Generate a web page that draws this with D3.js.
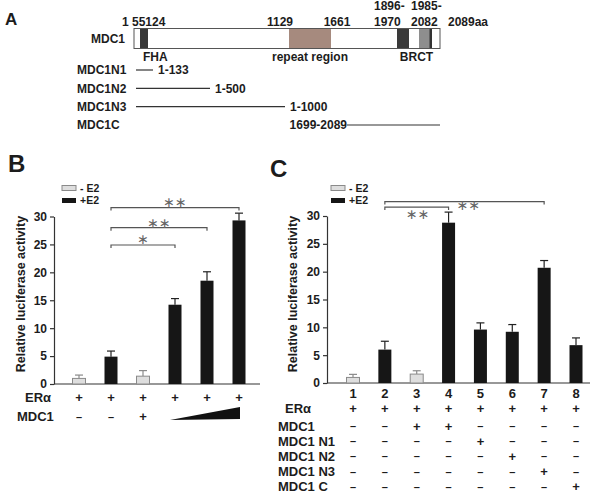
<!DOCTYPE html>
<html>
<head>
<meta charset="utf-8">
<script src="https://cdn.jsdelivr.net/npm/d3@7"></script>
<style>
  body { margin: 0; background: #fff; }
  svg text { font-family: 'Liberation Sans', Arial, sans-serif; font-weight: bold; fill: #1c1c1c; }
  svg text.star { font-family: 'DejaVu Sans', sans-serif; font-weight: normal; fill: #666; }
</style>
</head>
<body>
<svg id="fig" width="592" height="494"></svg>
<script>

// ---- panel A : MDC1 domains and deletion constructs
let domainFrom = [55, 1129, 1896, 1985];
let domainTo = [124, 1661, 1970, 2082];
let domainKind = ['fha', 'repeat', 'brct1', 'brct2'];
let fragNames = ['MDC1N1', 'MDC1N2', 'MDC1N3', 'MDC1C'];
let fragFrom = [1, 1, 1, 1699];
let fragTo = [133, 500, 1000, 2089];

// ---- panel B
let bE2 = ['-', '+', '-', '+', '+', '+'];
let bValues = [1.0, 4.9, 1.4, 14.2, 18.5, 29.3];
let bErrors = [0.6, 1.0, 1.0, 1.1, 1.6, 1.3];
let bEra = ['+', '+', '+', '+', '+', '+'];
let bMdc1 = ['–', '–', '+', '', '', ''];
let bSigFrom = [1, 1, 1];
let bSigTo = [5, 4, 3];
let bSigLevel = [31.6, 28.0, 24.9];
let bSigText = ['∗∗', '∗∗', '∗'];

// ---- panel C
let cLanes = ['1', '2', '3', '4', '5', '6', '7', '8'];
let cE2 = ['-', '+', '-', '+', '+', '+', '+', '+'];
let cValues = [1.0, 6.0, 1.6, 28.8, 9.6, 9.2, 20.7, 6.8];
let cErrors = [0.55, 1.5, 0.6, 1.9, 1.2, 1.3, 1.3, 1.3];
let cRowNames = ['ERα', 'MDC1', 'MDC1 N1', 'MDC1 N2', 'MDC1 N3', 'MDC1 C'];
let cRows = [
    ['+', '+', '+', '+', '+', '+', '+', '+'],
    ['–', '–', '+', '+', '–', '–', '–', '–'],
    ['–', '–', '–', '–', '+', '–', '–', '–'],
    ['–', '–', '–', '–', '–', '+', '–', '–'],
    ['–', '–', '–', '–', '–', '–', '+', '–'],
    ['–', '–', '–', '–', '–', '–', '–', '+']
];
let cSigFrom = [1, 1];
let cSigTo = [6, 3];
let cSigLevel = [32.6, 31.6];
let cSigText = ['∗∗', '∗∗'];

let yTicks = [0, 5, 10, 15, 20, 25, 30];

let svg = d3.select('#fig');

// ------------------------------------------------------------ panel A
// schematic is not drawn to scale, so use a piecewise linear scale
let aX = d3.scaleLinear()
    .domain([1, 55, 124, 133, 500, 1000, 1129, 1661, 1699, 1896, 1970, 1985, 2082, 2089])
    .range([134, 140, 148, 153, 210, 285, 289, 331, 347, 397, 409, 419, 432, 440]);

let domainFill = { fha: '#383838', repeat: '#a68a7e', brct1: '#3a3a3a', brct2: '#8e8e8e' };

let gA = svg.append('g');
gA.append('text').attr('x', 5).attr('y', 25).style('font-size', '17px').text('A');

gA.append('rect')
    .attr('x', aX(1)).attr('y', 28.5)
    .attr('width', aX(2089) - aX(1)).attr('height', 20)
    .attr('fill', '#fff').attr('stroke', '#555');

gA.selectAll('rect.dom')
    .data(domainKind)
    .join('rect')
    .attr('class', 'dom')
    .attr('x', (d, i) => aX(domainFrom[i]))
    .attr('y', 29)
    .attr('width', (d, i) => aX(domainTo[i]) - aX(domainFrom[i]))
    .attr('height', 19)
    .attr('fill', d => domainFill[d]);

// dark edge at the end of the second BRCT
gA.append('rect')
    .attr('x', aX(2082) - 2.5).attr('y', 29)
    .attr('width', 2.5).attr('height', 19)
    .attr('fill', '#333');

let topLabels = [
    { t: '1 55124', x: aX(1) - 12, y: 26, a: 'start' },
    { t: '1129', x: aX(1129) + 4, y: 26, a: 'end' },
    { t: '1661', x: aX(1661) + 6, y: 26, a: 'middle' },
    { t: '1896-', x: aX(1896) - 23, y: 10, a: 'start' },
    { t: '1970', x: aX(1896) - 23, y: 26, a: 'start' },
    { t: '1985-', x: aX(1985) - 8, y: 10, a: 'start' },
    { t: '2082', x: aX(1985) - 8, y: 26, a: 'start' },
    { t: '2089aa', x: aX(2089) + 8, y: 26, a: 'start' },
    { t: 'FHA', x: aX(55) + 3, y: 61, a: 'start' },
    { t: 'repeat region', x: (aX(1129) + aX(1661)) / 2, y: 61, a: 'middle' },
    { t: 'BRCT', x: (aX(1896) + aX(2082)) / 2 + 2, y: 61, a: 'middle' },
    { t: 'MDC1', x: 91, y: 43, a: 'start' }
];
gA.selectAll('text.lab')
    .data(topLabels)
    .join('text')
    .attr('class', 'lab')
    .attr('x', d => d.x).attr('y', d => d.y)
    .attr('text-anchor', d => d.a)
    .style('font-size', '12px')
    .text(d => d.t);

let fragY = d3.scalePoint().domain(fragNames).range([70, 125]);
let frag = gA.selectAll('g.frag')
    .data(fragNames)
    .join('g')
    .attr('class', 'frag');
frag.append('text')
    .attr('x', 77).attr('y', d => fragY(d) + 4.3)
    .style('font-size', '12px')
    .text(d => d);
frag.append('line')
    .attr('x1', (d, i) => aX(fragFrom[i]) + (fragFrom[i] === 1 ? 2 : 0))
    .attr('x2', (d, i) => aX(fragTo[i]))
    .attr('y1', d => fragY(d)).attr('y2', d => fragY(d))
    .attr('stroke', '#333').attr('stroke-width', 1.2);
frag.append('text')
    .attr('x', (d, i) => fragFrom[i] === 1 ? aX(fragTo[i]) + 5 : aX(fragFrom[i]))
    .attr('y', d => fragY(d) + 4.3)
    .attr('text-anchor', (d, i) => fragFrom[i] === 1 ? 'start' : 'end')
    .style('font-size', '12px')
    .text((d, i) => fragFrom[i] + '-' + fragTo[i]);

// ------------------------------------------------------------ bar panels
function barPanel(p) {
    let g = svg.append('g');
    let x = d3.scalePoint().domain(d3.range(p.values.length)).range(p.xRange);
    let y = d3.scaleLinear().domain([0, 30]).range(p.yRange);
    let y0 = y(0);

    g.append('text').attr('x', p.letterX).attr('y', p.letterY)
        .style('font-size', '24px').text(p.letter);

    // y axis
    let ax = g.append('g')
        .attr('transform', `translate(${p.axisX},0)`)
        .call(d3.axisLeft(y).tickValues(yTicks).tickSize(4).tickPadding(3).tickSizeOuter(0));
    ax.select('.domain').attr('stroke', '#333').attr('stroke-width', 1.2);
    ax.selectAll('.tick line').attr('stroke', '#333').attr('stroke-width', 1.2);
    ax.selectAll('.tick text')
        .style('font-family', "'Liberation Sans', Arial, sans-serif")
        .style('font-weight', 'bold').style('font-size', '12px').attr('fill', '#1c1c1c');

    // baseline
    g.append('line')
        .attr('x1', p.axisX).attr('x2', p.axisEnd)
        .attr('y1', y0).attr('y2', y0)
        .attr('stroke', '#333').attr('stroke-width', 1.2);

    g.append('text')
        .attr('transform', `translate(${p.titleX},${p.titleY}) rotate(-90)`)
        .attr('text-anchor', 'middle').attr('dominant-baseline', 'central')
        .style('font-size', '12.5px')
        .text('Relative luciferase activity');

    // error bars
    let err = g.selectAll('g.err')
        .data(p.values)
        .join('g')
        .attr('class', 'err')
        .attr('stroke', (d, i) => p.e2[i] === '+' ? '#222' : '#8a8a8a')
        .attr('stroke-width', 1.2);
    err.append('line')
        .attr('x1', (d, i) => x(i)).attr('x2', (d, i) => x(i))
        .attr('y1', d => y(d)).attr('y2', (d, i) => y(d + p.errors[i]));
    err.append('line')
        .attr('x1', (d, i) => x(i) - 4).attr('x2', (d, i) => x(i) + 4)
        .attr('y1', (d, i) => y(d + p.errors[i])).attr('y2', (d, i) => y(d + p.errors[i]));

    // bars
    g.selectAll('rect.bar')
        .data(p.values)
        .join('rect')
        .attr('class', 'bar')
        .attr('x', (d, i) => x(i) - 6.5)
        .attr('width', 13)
        .attr('y', d => y(d))
        .attr('height', d => y0 - y(d))
        .attr('fill', (d, i) => p.e2[i] === '+' ? '#161616' : '#dedede')
        .attr('stroke', (d, i) => p.e2[i] === '+' ? 'none' : '#8a8a8a')
        .attr('stroke-width', 1);

    // significance brackets
    let sig = g.selectAll('g.sig')
        .data(p.sigLevel)
        .join('g')
        .attr('class', 'sig');
    sig.append('path')
        .attr('d', (d, i) => {
            let x1 = x(p.sigFrom[i]), x2 = x(p.sigTo[i]), yy = y(d);
            return `M${x1},${yy + 3}V${yy}H${x2}V${yy + 3}`;
        })
        .attr('fill', 'none').attr('stroke', '#555').attr('stroke-width', 1.2);
    sig.append('text')
        .attr('class', 'star')
        .attr('x', (d, i) => (x(p.sigFrom[i]) + x(p.sigTo[i])) / 2 + p.starDx[i])
        .attr('y', (d, i) => y(d) + p.starDy[i])
        .attr('text-anchor', 'middle').attr('dominant-baseline', 'central')
        .style('font-size', '14px')
        .text((d, i) => p.sigText[i]);

    // legend
    let leg = g.append('g');
    [['-', '- E2'], ['+', '+E2']].forEach((l, k) => {
        leg.append('rect')
            .attr('x', p.legendX).attr('y', 185.5 + k * 12.5)
            .attr('width', 14).attr('height', 5)
            .attr('fill', l[0] === '+' ? '#161616' : '#dedede')
            .attr('stroke', l[0] === '+' ? 'none' : '#8a8a8a');
        leg.append('text')
            .attr('x', p.legendX + 18).attr('y', 191.5 + k * 12.5)
            .style('font-size', '10.5px')
            .text(l[1]);
    });

    return { g, x, y };
}

// ------------------------------------------------------------ panel B
let B = barPanel({
    letter: 'B', letterX: 8, letterY: 172,
    values: bValues, errors: bErrors, e2: bE2,
    xRange: [79, 239], yRange: [384, 216.5],
    axisX: 54, axisEnd: 260,
    titleX: 21, titleY: 294,
    sigFrom: bSigFrom, sigTo: bSigTo, sigLevel: bSigLevel, sigText: bSigText,
    starDx: [0, 0, 0], starDy: [-5.5, -5, -5.5],
    legendX: 62
});

let bRowY = [397.5, 416.7];
B.g.append('text').attr('x', 25).attr('y', bRowY[0] + 4.5).style('font-size', '13px').text('ERα');
B.g.append('text').attr('x', 17).attr('y', bRowY[1] + 4.5).style('font-size', '13px').text('MDC1');
[bEra, bMdc1].forEach((row, r) => {
    B.g.selectAll(null)
        .data(row)
        .join('text')
        .attr('x', (d, i) => B.x(i))
        .attr('y', bRowY[r])
        .attr('text-anchor', 'middle').attr('dominant-baseline', 'central')
        .style('font-size', d => d === '+' ? '13px' : '11px')
        .text(d => d);
});
// increasing-dose wedge under the last three lanes
B.g.append('path')
    .attr('d', d3.line()([
        [B.x(3) - 5, 420], [B.x(5) + 1, 407], [B.x(5) + 1, 419]
    ]) + 'Z')
    .attr('fill', '#111');

// ------------------------------------------------------------ panel C
let C = barPanel({
    letter: 'C', letterX: 270, letterY: 177,
    values: cValues, errors: cErrors, e2: cE2,
    xRange: [353, 576], yRange: [383, 216],
    axisX: 327, axisEnd: 590,
    titleX: 292.5, titleY: 294,
    sigFrom: cSigFrom, sigTo: cSigTo, sigLevel: cSigLevel, sigText: cSigText,
    starDx: [4, 1], starDy: [3.5, 7],
    legendX: 331
});

C.g.selectAll('text.lane')
    .data(cLanes)
    .join('text')
    .attr('class', 'lane')
    .attr('x', (d, i) => C.x(i)).attr('y', 393.3)
    .attr('text-anchor', 'middle').attr('dominant-baseline', 'central')
    .style('font-size', '13px')
    .text(d => d);

let cRowY = d3.scaleLinear().domain([1, 5]).range([426, 486.8]);
cRowNames.forEach((name, r) => {
    let yy = r === 0 ? 408.3 : cRowY(r);
    C.g.append('text')
        .attr('x', r === 0 ? 285 : 278).attr('y', yy + 4.5)
        .style('font-size', '13px')
        .text(name);
    C.g.selectAll(null)
        .data(cRows[r])
        .join('text')
        .attr('x', (d, i) => C.x(i)).attr('y', yy)
        .attr('text-anchor', 'middle').attr('dominant-baseline', 'central')
        .style('font-size', d => d === '+' ? '13px' : '11px')
        .text(d => d);
});

</script>
</body>
</html>
